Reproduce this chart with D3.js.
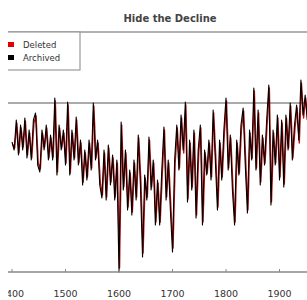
<!DOCTYPE html>
<html>
<head>
<meta charset="utf-8">
<script src="https://cdn.jsdelivr.net/npm/d3@7"></script>
<style>
  body { margin: 0; background: #fff; }
  svg { display: block; font-family: "DejaVu Sans", sans-serif; }
</style>
</head>
<body>
<svg width="307" height="300"></svg>
<script>
// years, every 4 years; the deleted series is sampled a year later
var years = d3.range(1400, 1953, 4);
var deletedYears = d3.range(1401, 1954, 4);

// archived reconstruction (black)
var archived = [
  -0.39, -0.47, -0.17, -0.52, -0.22, -0.47, -0.15, -0.55, -0.27, -0.57,
  -0.17, -0.10, -0.62, -0.69, -0.27, -0.47, -0.22, -0.57, -0.32, -0.57,
   0.05, -0.72, -0.22, -0.47, -0.27, -0.62,  0.01, -0.72, -0.27, -0.57,
  -0.14, -0.62, -0.37, -0.82, -0.47, -0.77, -0.37, -0.67,  0.00, -0.57,
  -0.37, -0.82, -0.95, -0.47, -0.97, -0.42, -0.82, -0.52, -0.97, -0.57,
  -1.69, -0.19, -0.87, -0.47, -1.07, -0.67, -1.12, -0.57, -0.97, -0.32,
  -0.82, -1.54, -0.72, -0.97, -0.34, -0.87, -0.57, -1.22, -0.77, -1.22,
  -0.67, -0.24, -0.97, -0.57, -1.07, -1.49, -0.57, -0.22, -0.67, -0.12,
  -0.47,  0.01, -0.99, -0.37, -0.87, -0.27, -1.15, -0.47, -0.22, -1.22,
  -0.47, -0.72, -0.37, -0.77, -0.07, -0.57, -1.07, -0.37, -0.77, -0.27,
   0.05, -0.67, -0.32, -0.87, -1.22, -0.37, -0.72, -0.22, -0.05, -0.62,
  -1.10, -0.27, -0.57,  0.15, -0.67, -0.07, -0.82, -0.32, -0.62, -0.17,
   0.18, -1.02, -0.27, -0.62, -0.12, -0.77, -0.17, -0.84, -0.12, -0.47,
   0.00, -0.57, -0.22, -0.02, -0.37,  0.23, -0.12,  0.08, -0.17
];

// deleted reconstruction (red), almost the same
var deleted = [
  -0.41, -0.45, -0.20, -0.50, -0.25, -0.44, -0.18, -0.52, -0.30, -0.55,
  -0.20, -0.13, -0.60, -0.66, -0.30, -0.44, -0.25, -0.55, -0.35, -0.54,
   0.02, -0.69, -0.25, -0.45, -0.30, -0.60, -0.02, -0.70, -0.30, -0.55,
  -0.17, -0.60, -0.40, -0.79, -0.50, -0.74, -0.40, -0.65, -0.03, -0.55,
  -0.40, -0.79, -0.92, -0.50, -0.94, -0.45, -0.79, -0.55, -0.94, -0.60,
  -1.65, -0.22, -0.84, -0.50, -1.04, -0.70, -1.09, -0.60, -0.94, -0.35,
  -0.79, -1.50, -0.75, -0.94, -0.37, -0.84, -0.60, -1.19, -0.80, -1.19,
  -0.70, -0.27, -0.94, -0.60, -1.04, -1.45, -0.60, -0.25, -0.65, -0.15,
  -0.50, -0.02, -0.96, -0.40, -0.84, -0.30, -1.12, -0.50, -0.25, -1.19,
  -0.50, -0.70, -0.40, -0.74, -0.10, -0.55, -1.04, -0.40, -0.74, -0.30,
   0.02, -0.65, -0.35, -0.84, -1.19, -0.40, -0.70, -0.25, -0.08, -0.60,
  -1.07, -0.30, -0.55,  0.12, -0.65, -0.10, -0.79, -0.35, -0.60, -0.20,
   0.15, -0.99, -0.30, -0.60, -0.15, -0.74, -0.20, -0.81, -0.15, -0.45,
  -0.03, -0.55, -0.25, -0.05, -0.40,  0.20, -0.15,  0.05, -0.20
];

var tickYears = [1400, 1500, 1600, 1700, 1800, 1900];
var seriesNames = ["Deleted", "Archived"];
var seriesColors = ["#c81010", "#000000"];

function drawChart() {
  var svg = d3.select("svg"),
      width = 307,
      height = 300;

  // plot box
  var left = 8, plotTop = 32, plotBottom = 272;

  var x = d3.scaleLinear().domain([1400, 1900]).range([12, 279.5]);
  var y = d3.scaleLinear().domain([-1.69, 0.71]).range([plotBottom, plotTop]);

  var defs = svg.append("defs");
  defs.append("clipPath").attr("id", "clip")
    .append("rect").attr("x", left).attr("y", 0).attr("width", width - left).attr("height", height);
  // soften the lines a bit, the source picture is blurry
  defs.append("filter").attr("id", "soft")
    .append("feGaussianBlur").attr("stdDeviation", 0.4);

  var g = svg.append("g").attr("clip-path", "url(#clip)");

  // title
  g.append("text")
    .attr("x", 170).attr("y", 22)
    .attr("text-anchor", "middle")
    .style("font-size", "10px")
    .style("font-weight", "bold")
    .style("fill", "#444")
    .text("Hide the Decline");

  // frame top line
  g.append("line")
    .attr("x1", left).attr("x2", width)
    .attr("y1", plotTop).attr("y2", plotTop)
    .style("stroke", "#999").style("stroke-width", 1.5);

  // zero line
  g.append("line")
    .attr("x1", left).attr("x2", width)
    .attr("y1", y(0)).attr("y2", y(0))
    .style("stroke", "#aaa").style("stroke-width", 2);

  // the two series, red under black
  var lines = g.append("g").attr("filter", "url(#soft)");
  var xs = [deletedYears, years];
  [deleted, archived].forEach(function(s, i) {
    var line = d3.line()
      .x(function(d, j) { return x(xs[i][j]); })
      .y(function(d) { return y(d); });
    lines.append("path")
      .datum(s)
      .attr("fill", "none")
      .style("stroke", seriesColors[i])
      .style("stroke-width", i == 0 ? 1.4 : 1.1)
      .style("stroke-linejoin", "round")
      .attr("d", line);
  });

  // x axis
  var xAxis = g.append("g").attr("transform", "translate(0," + plotBottom + ")");
  xAxis.append("line")
    .attr("x1", left).attr("x2", width)
    .style("stroke", "#888").style("stroke-width", 1.5);
  xAxis.selectAll(".tick")
    .data(tickYears)
    .enter().append("line")
    .attr("x1", function(d) { return x(d); })
    .attr("x2", function(d) { return x(d); })
    .attr("y1", -3).attr("y2", 0)
    .style("stroke", "#888");
  xAxis.selectAll(".lbl")
    .data(tickYears)
    .enter().append("text")
    .attr("x", function(d) { return x(d); })
    .attr("y", 25)
    .attr("text-anchor", "middle")
    .style("font-size", "9.5px")
    .style("fill", "#333")
    .text(function(d) { return d; });

  // legend
  var legend = g.append("g");
  legend.append("rect")
    .attr("x", -2).attr("y", plotTop)
    .attr("width", 82).attr("height", 38)
    .style("fill", "#fff")
    .style("stroke", "#999").style("stroke-width", 1.2);
  seriesNames.forEach(function(name, i) {
    legend.append("rect")
      .attr("x", 8).attr("y", 42 + i * 13)
      .attr("width", 6).attr("height", 5)
      .style("fill", i == 0 ? "#e00000" : "#000");
    legend.append("text")
      .attr("x", 23).attr("y", 48 + i * 13)
      .style("font-size", "8.5px")
      .style("fill", "#333")
      .text(name);
  });
}

drawChart();
</script>
</body>
</html>
